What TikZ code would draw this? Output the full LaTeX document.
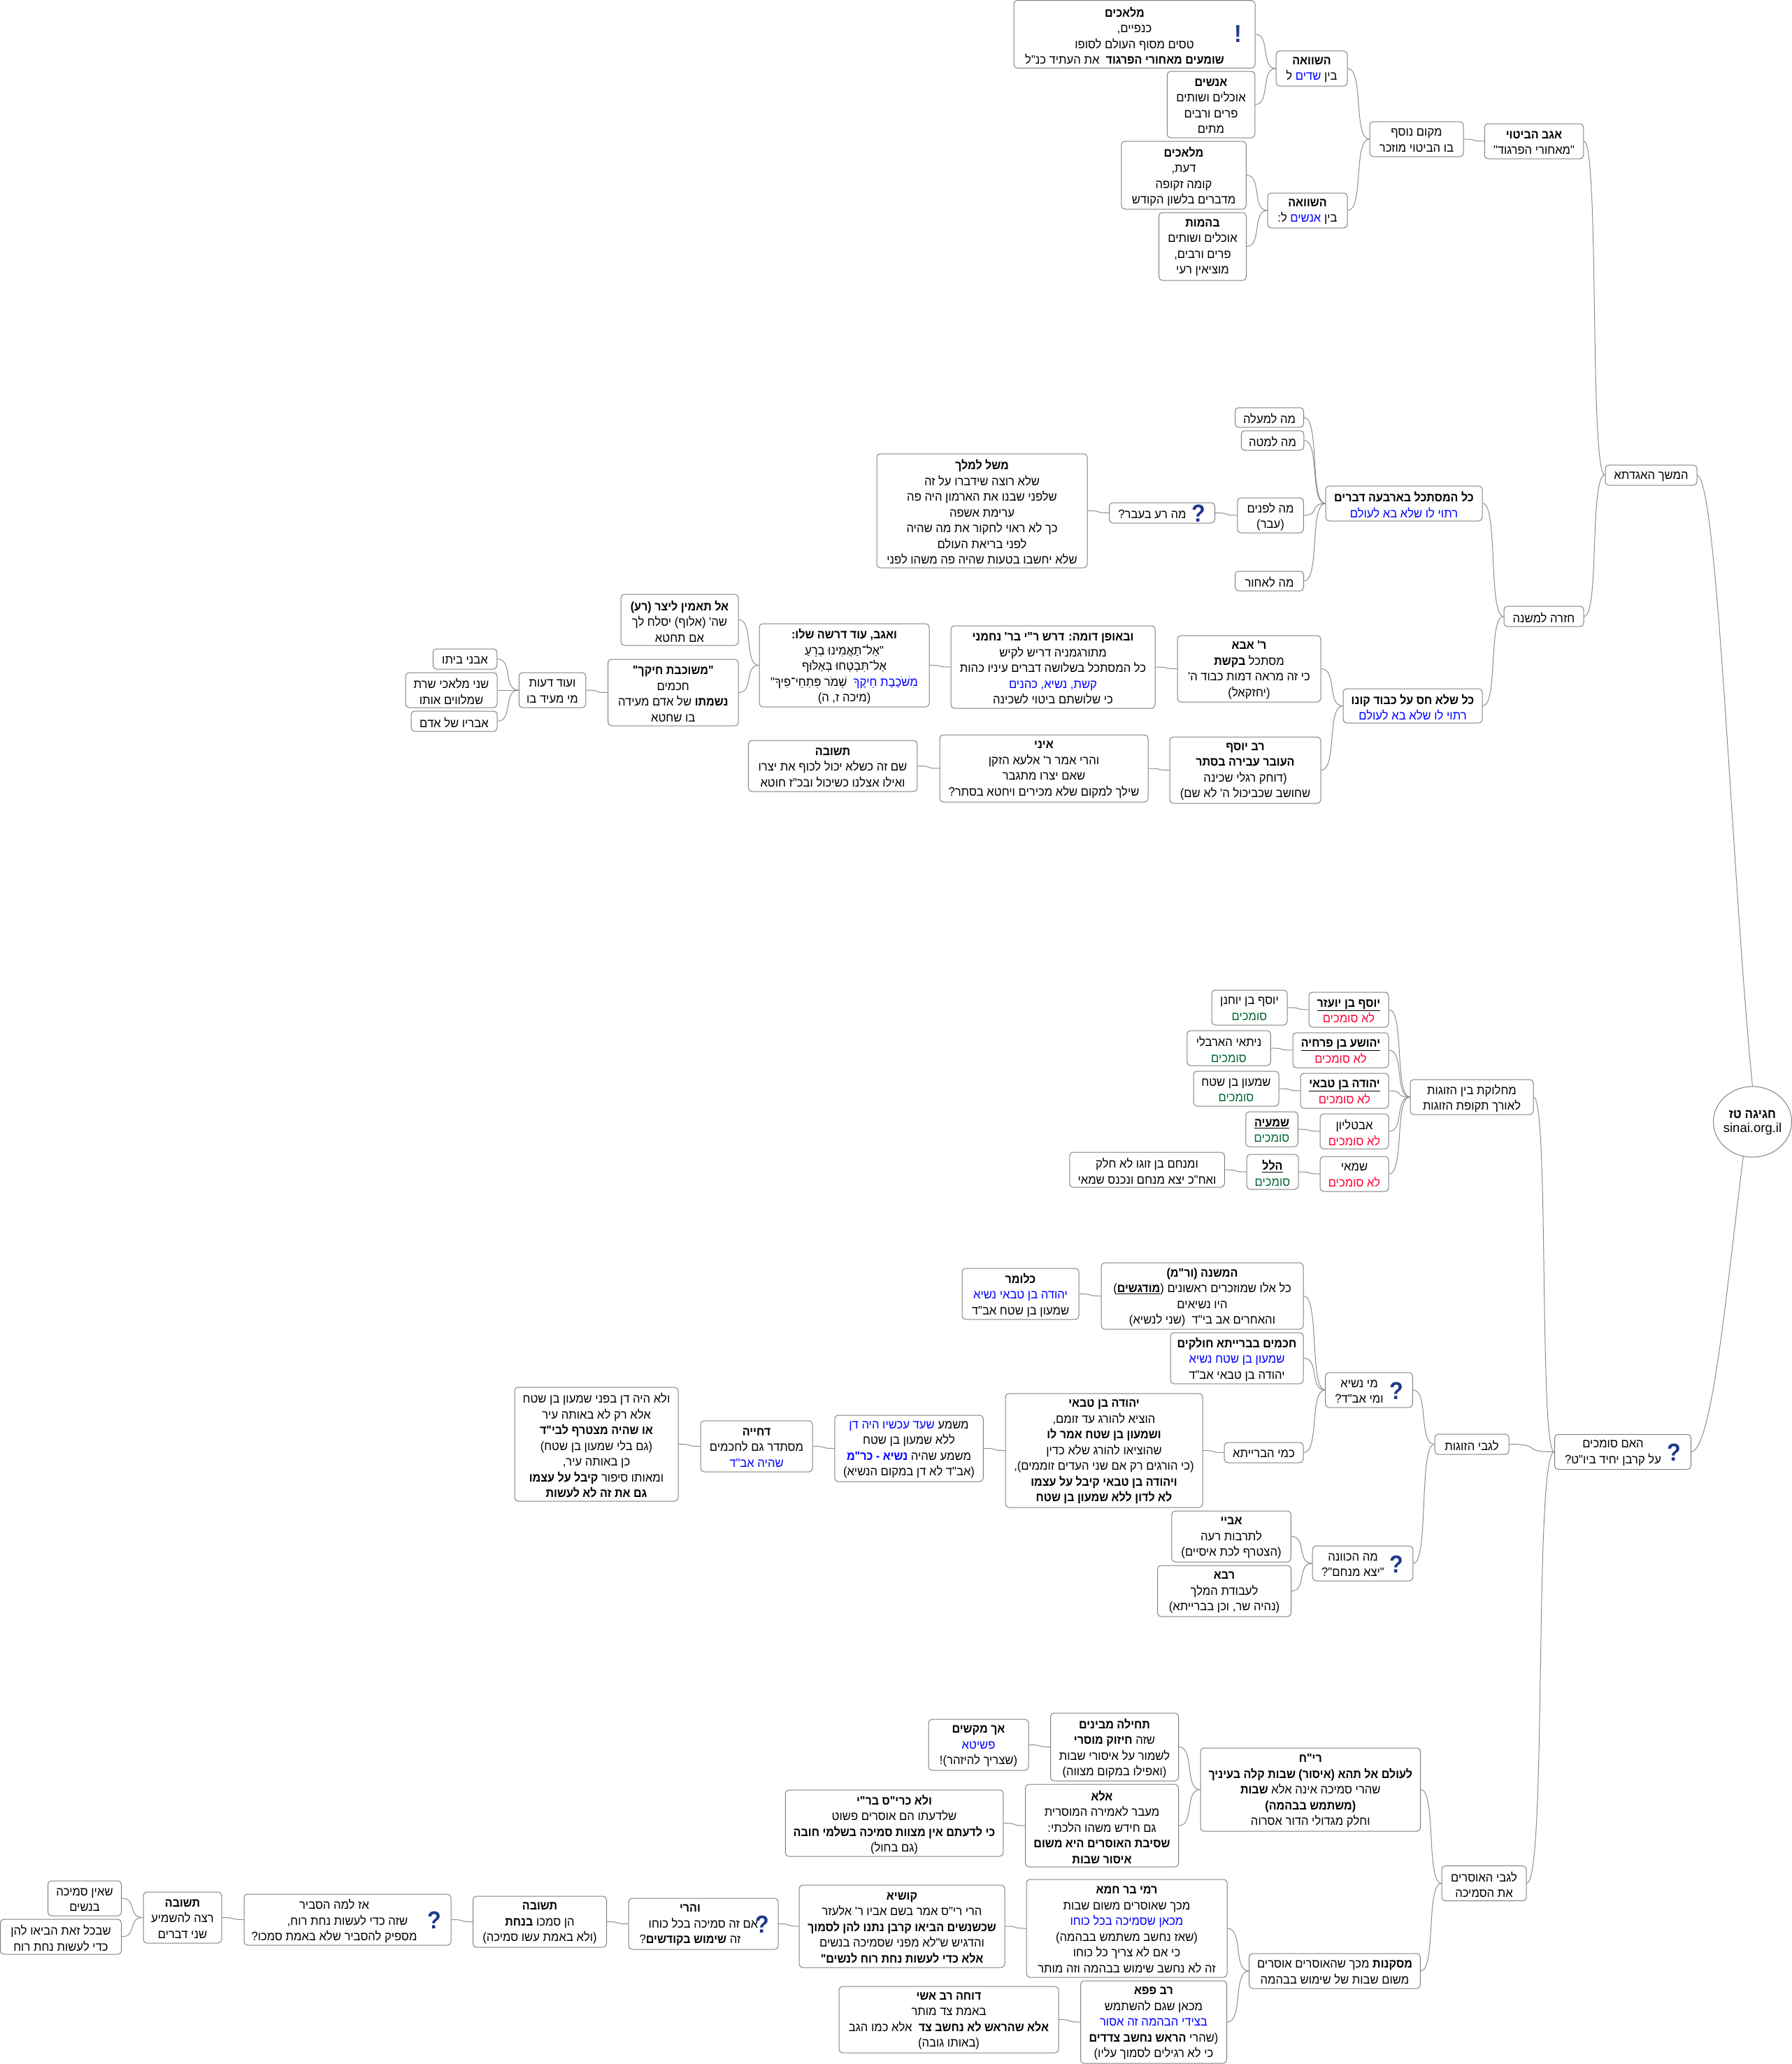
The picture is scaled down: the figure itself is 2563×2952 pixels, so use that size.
\documentclass[tikz,border=0pt]{standalone}
\usepackage{fontspec}
\usepackage{tikz}
\usetikzlibrary{calc,shapes.geometric}
\setmainfont[Script=Hebrew,Ligatures=TeXOff,UprightFeatures={FakeStretch=0.95},BoldFeatures={FakeStretch=0.92}]{Liberation Sans}
\newfontfamily\sitefont{Liberation Sans}
\TeXXeTstate=1
\definecolor{edgegray}{HTML}{8C8C8C}
\definecolor{boxgray}{HTML}{808080}
\definecolor{iconblue}{HTML}{1F3A8A}
\newcommand{\rtl}[1]{\beginR #1\endR}
\newcommand{\heb}[1]{\raisebox{-2pt}[\height][\depth]{\rtl{#1}}}
\newcommand{\hebb}[1]{\heb{\textbf{#1}}}
\newcommand{\hebq}[2][28pt]{\heb{#2}\hspace*{#1}}
\newcommand{\hebbq}[2][28pt]{\hebb{#2}\hspace*{#1}}
\newcommand{\colr}[2]{\special{color pop}#2\special{color push rgb #1}}
\newcommand{\blu}[1]{\colr{0 0 1}{#1}}
\newcommand{\no}{\heb{\colr{1 0 0.2}{לא סומכים}}}
\newcommand{\yes}{\heb{\colr{0 0.4 0.2}{סומכים}}}
\newcommand{\ulin}[1]{\underline{\rtl{\textbf{#1}}}}
\newcommand{\ulb}[1]{\heb{\ulin{#1}}}

\begin{document}
\begin{tikzpicture}[x=1pt, y=-1pt,
    main/.style = {draw=boxgray, line width=1pt, rounded corners=5pt, inner sep=0pt, align=center, fill=white,
        font=\fontsize{17.5}{22.5}\selectfont},
    box/.style 2 args = {minimum width=#1, minimum height=#2},
    root/.style = {draw=boxgray, line width=1pt, ellipse, inner sep=0pt, align=center,
        font=\fontsize{18.5}{22.5}\selectfont},
    icon/.style = {inner sep=0pt, text=iconblue, font=\fontsize{35}{35}\selectfont\bfseries},
    line/.style = {draw=edgegray, line width=1pt},
    link/.style = {line, to path={.. controls ($(\tikztostart)!0.75!(\tikztotarget |- \tikztostart)$) and ($(\tikztotarget)!0.75!(\tikztostart |- \tikztotarget)$) .. (\tikztotarget)}}]
    \useasboundingbox (0,0) rectangle (2563,2952);

    \node[main, box={345}{96.5}] (1) at (1622.5,49) {\hebbq{מלאכים}\\\hebq{כנפיים,}\\\hebq{טסים מסוף העולם לסופו}\\\hebq{\textbf{שומעים מאחורי הפרגוד}\ \ את העתיד כנ"ל}};
    \node[main, box={125.5}{95}] (2) at (1732,149.5) {\hebb{אנשים}\\\heb{אוכלים ושותים}\\\heb{פרים ורבים}\\\heb{מתים}};
    \node[main, box={102}{50}] (3) at (1876,98) {\hebb{השוואה}\\\heb{בין \blu{שדים} ל}};
    \node[main, box={178.5}{97}] (4) at (1693,250.5) {\hebb{מלאכים}\\\heb{דעת,}\\\heb{קומה זקופה}\\\heb{מדברים בלשון הקודש}};
    \node[main, box={125}{97}] (5) at (1720,352.5) {\hebb{בהמות}\\\heb{אוכלים ושותים}\\\heb{פרים ורבים,}\\\heb{מוציאין רעי}};
    \node[main, box={114}{50}] (6) at (1870,301) {\hebb{השוואה}\\\heb{בין \blu{אנשים} ל:}};
    \node[main, box={134}{50}] (7) at (2026,199) {\heb{מקום נוסף}\\\heb{בו הביטוי מוזכר}};
    \node[main, box={141.5}{50}] (8) at (2194,202) {\hebb{אגב הביטוי}\\\heb{"מאחורי הפרגוד"}};
    \node[main, box={131}{29}] (9) at (2361.5,679.5) {\heb{המשך האגדתא}};
    \node[main, box={98}{28}] (10) at (1815.5,597) {\heb{מה למעלה}};
    \node[main, box={89.5}{28}] (11) at (1820,630) {\heb{מה למטה}};
    \node[main, box={94.5}{50}] (12) at (1817,737) {\heb{מה לפנים}\\\heb{(עבר)}};
    \node[main, box={151}{29}] (13) at (1662,733.5) {\hebq{מה רע בעבר?}};
    \node[main, box={301}{163}] (14) at (1404.5,730.5) {\hebb{משל למלך}\\\heb{שלא רוצה שידברו על זה}\\\heb{שלפני שבנו את הארמון היה פה}\\\heb{ערימת אשפה}\\\heb{כך לא ראוי לחקור את מה שהיה}\\\heb{לפני בריאת העולם}\\\heb{שלא יחשבו בטעות שהיה פה משהו לפני}};
    \node[main, box={98}{28}] (15) at (1815.5,831) {\heb{מה לאחור}};
    \node[main, box={224}{50}] (16) at (2008,720) {\hebb{כל המסתכל בארבעה דברים}\\\heb{\blu{רתוי לו שלא בא לעולם}}};
    \node[main, box={199}{49}] (17) at (2020.5,1009.5) {\hebb{כל שלא חס על כבוד קונו}\\\heb{\blu{רתוי לו שלא בא לעולם}}};
    \node[main, box={114}{29}] (18) at (2208,881.5) {\heb{חזרה למשנה}};
    \node[main, box={205}{95}] (19) at (1786.5,956.5) {\hebb{ר' אבא}\\\heb{מסתכל \textbf{בקשת}}\\\heb{כי זה מראה דמות כבוד ה'}\\\heb{(יחזקאל)}};
    \node[main, box={292}{118}] (20) at (1506,954) {\hebb{ובאופן דומה: דרש ר"י בר' נחמני}\\\heb{מתורגמניה דריש לקיש}\\\heb{כל המסתכל בשלושה דברים עיניו כהות}\\\heb{\blu{קשת, נשיא, כהנים}}\\\heb{כי שלושתם ביטוי לשכינה}};
    \node[main, box={243}{119}] (21) at (1207.5,951.5) {\hebb{ואגב, עוד דרשה שלו:}\\\heb{"אַל־תַּאֲמִינוּ בְרֵעַ}\\\heb{אַל־תִּבְטְחוּ בְּאַלּוּף}\\\heb{\blu{מִשֹּׁכֶבֶת חֵיקֶךָ}\ \ שְׁמֹר פִּתְחֵי־פִיךָ"}\\\heb{(מיכה ז, ה)}};
    \node[main, box={168}{73}] (22) at (972,886.5) {\hebb{אל תאמין ליצר (רע)}\\\heb{שה' (אלוף) יסלח לך}\\\heb{אם תחטא}};
    \node[main, box={186.5}{95}] (23) at (962.75,990.5) {\hebb{"משוכבת חיקך"}\\\heb{חכמים}\\\heb{\textbf{נשמתו} של אדם מעידה}\\\heb{בו שחטא}};
    \node[main, box={95.5}{50}] (24) at (790,987) {\heb{ועוד דעות}\\\heb{מי מעיד בו}};
    \node[main, box={91.5}{29}] (25) at (665,942.5) {\heb{אבני ביתו}};
    \node[main, box={131}{50}] (26) at (645.5,987) {\heb{שני מלאכי שרת}\\\heb{שמלווים אותו}};
    \node[main, box={123}{29}] (27) at (649.5,1031.5) {\heb{אבריו של אדם}};
    \node[main, box={216}{95}] (28) at (1781,1101.5) {\hebb{רב יוסף}\\\hebb{העובר עבירה בסתר}\\\heb{(דוחק רגלי שכינה}\\\heb{שחושב שכביכול ה' לא שם)}};
    \node[main, box={298}{96}] (29) at (1493,1099) {\hebb{איני}\\\heb{והרי אמר ר' אלעא הזקן}\\\heb{שאם יצרו מתגבר}\\\heb{שילך למקום שלא מכירים ויחטא בסתר?}};
    \node[main, box={241.5}{73}] (30) at (1191,1095.5) {\hebb{תשובה}\\\heb{שם זה כשלא יכול לכוף את יצרו}\\\heb{ואילו אצלנו כשיכול ובכ"ז חוטא}};
    \node[main, box={114}{50}] (31) at (1929,1444) {\ulb{יוסף בן יועזר}\\\no};
    \node[main, box={108}{50}] (32) at (1787,1441) {\heb{יוסף בן יוחנן}\\\yes};
    \node[main, box={137}{50}] (33) at (1917.5,1502) {\ulb{יהושע בן פרחיה}\\\no};
    \node[main, box={119.5}{50}] (34) at (1757.5,1499) {\heb{ניתאי הארבלי}\\\yes};
    \node[main, box={126}{50}] (35) at (1923,1560) {\ulb{יהודה בן טבאי}\\\no};
    \node[main, box={122}{50}] (36) at (1768,1557) {\heb{שמעון בן שטח}\\\yes};
    \node[main, box={98}{50}] (37) at (1937,1618) {\heb{אבטליון}\\\no};
    \node[main, box={74.5}{50}] (38) at (1819,1615) {\ulb{שמעיה}\\\yes};
    \node[main, box={98}{50}] (39) at (1937,1679) {\heb{שמאי}\\\no};
    \node[main, box={74}{50}] (40) at (1820,1676) {\ulb{הלל}\\\yes};
    \node[main, box={221.5}{50}] (41) at (1640.5,1673) {\heb{ומנחם בן זוגו לא חלק}\\\heb{ואח"כ יצא מנחם ונכנס שמאי}};
    \node[main, box={176}{50}] (42) at (2105,1569) {\heb{מחלוקת בין הזוגות}\\\heb{לאורך תקופת הזוגות}};
    \node[root, minimum width=112, minimum height=101] (43) at (2506.5,1604.5) {\makebox[0pt]{\hebb{חגיגה טז}}\\\makebox[0pt]{\sitefont sinai.org.il}};
    \node[main, box={289}{95}] (44) at (1719.5,1853.5) {\hebb{המשנה (ור"מ)}\\\heb{כל אלו שמוזכרים ראשונים (\ulin{מודגשים})}\\\heb{היו נשיאים}\\\heb{והאחרים אב בי"ד\ \ (שני לנשיא)}};
    \node[main, box={167}{73}] (45) at (1459.5,1850.5) {\hebb{כלומר}\\\heb{\blu{יהודה בן טבאי נשיא}}\\\heb{שמעון בן שטח אב"ד}};
    \node[main, box={190}{73}] (46) at (1769,1942.5) {\hebb{חכמים בברייתא חולקים}\\\heb{\blu{שמעון בן שטח נשיא}}\\\heb{יהודה בן טבאי אב"ד}};
    \node[main, box={124.6}{50}] (47) at (1958,1988) {\hebq{מי נשיא}\\\hebq{ומי אב"ד?}};
    \node[main, box={113}{29}] (48) at (1807.5,2077.5) {\heb{כמי הברייתא}};
    \node[main, box={282}{163}] (49) at (1579,2074.5) {\hebb{יהודה בן טבאי}\\\heb{הוציא להורג עד זומם,}\\\hebb{ושמעון בן שטח אמר לו}\\\heb{שהוציאו להורג שלא כדין}\\\heb{(כי הורגים רק אם שני העדים זוממים),}\\\hebb{ויהודה בן טבאי קיבל על עצמו}\\\hebb{לא לדון ללא שמעון בן שטח}};
    \node[main, box={212.5}{95}] (50) at (1300,2071.5) {\heb{משמע \blu{שעד עכשיו היה דן}}\\\heb{ללא שמעון בן שטח}\\\heb{משמע שהיה \blu{\textbf{נשיא - כר"מ}}}\\\heb{(אב"ד לא דן במקום הנשיא)}};
    \node[main, box={160}{73}] (51) at (1082,2068.5) {\hebb{דחייה}\\\heb{מסתדר גם לחכמים}\\\heb{\blu{שהיה אב"ד}}};
    \node[main, box={234}{163}] (52) at (853,2065.5) {\heb{ולא היה דן בפני שמעון בן שטח}\\\heb{אלא רק לא באותה עיר}\\\hebb{או שהיה מצטרף לבי"ד}\\\heb{(גם בלי שמעון בן שטח)}\\\heb{כן באותה עיר,}\\\heb{ומאותו סיפור \textbf{קיבל על עצמו}}\\\hebb{גם את זה לא לעשות}};
    \node[main, box={170.5}{73}] (53) at (1761,2197.5) {\hebb{אביי}\\\heb{לתרבות רעה}\\\heb{(הצטרף לכת איסיים)}};
    \node[main, box={191}{73}] (54) at (1751,2275.5) {\hebb{רבא}\\\heb{לעבודת המלך}\\\heb{(נהיה שר, וכן בברייתא)}};
    \node[main, box={143.6}{50}] (55) at (1949,2236) {\hebq{מה הכוונה}\\\hebq{"יצא מנחם"?}};
    \node[main, box={106}{29}] (56) at (2105,2065.5) {\heb{לגבי הזוגות}};
    \node[main, box={195}{50}] (57) at (2321,2076.5) {\hebq{האם סומכים}\\\hebq{על קרבן יחיד ביו"ט?}};
    \node[main, box={121}{50}] (58) at (2122.5,2693.6) {\heb{לגבי האוסרים}\\\heb{את הסמיכה}};
    \node[main, box={314.6}{119}] (59) at (1874.3,2559.5) {\hebb{רי"ח}\\\hebb{לעולם אל תהא (איסור) שבות קלה בעיניך}\\\heb{שהרי סמיכה אינה אלא \textbf{שבות}}\\\hebb{(משתמש בבהמה)}\\\heb{וחלק מגדולי הדור אסרוה}};
    \node[main, box={183}{97}] (60) at (1594,2498.5) {\hebb{תחילה מבינים}\\\heb{שזה \textbf{חיזוק מוסרי}}\\\heb{לשמור על איסורי שבות}\\\heb{(ואפילו במקום מצווה)}};
    \node[main, box={143}{73}] (61) at (1399.5,2495.5) {\hebb{אך מקשים}\\\heb{\blu{פשיטא}}\\\heb{(שצריך להיזהר)!}};
    \node[main, box={219}{118}] (62) at (1576,2611) {\hebb{אלא}\\\heb{מעבר לאמירה המוסרית}\\\heb{גם חידש משהו הלכתי:}\\\hebb{שסיבת האוסרים היא משום}\\\hebb{איסור שבות}};
    \node[main, box={311.5}{95}] (63) at (1279,2607.5) {\hebb{ולא כרי"ס בר"י}\\\heb{שלדעתו הם אוסרים פשוט}\\\hebb{כי לדעתם אין מצוות סמיכה בשלמי חובה}\\\heb{(גם בחול)}};
    \node[main, box={244.6}{50}] (64) at (1909,2819) {\heb{\textbf{מסקנות} מכך שהאוסרים אוסרים}\\\heb{משום שבות של שימוש בבהמה}};
    \node[main, box={287}{140}] (65) at (1611.5,2758) {\hebb{רמי בר חמא}\\\heb{מכך שאוסרים משום שבות}\\\heb{\blu{מכאן שסמיכה בכל כוחו}}\\\heb{(שאז נחשב משתמש בבהמה)}\\\heb{כי אם לא צריך כל כוחו}\\\heb{זה לא נחשב שימוש בבהמה וזה מותר}};
    \node[main, box={294}{118}] (66) at (1290,2755) {\hebb{קושיא}\\\heb{הרי רי"ס אמר בשם אביו ר' אלעזר}\\\hebb{שכשנשים הביאו קרבן נתנו להן לסמוך}\\\heb{והדגיש ש"לא מפני שסמיכה בנשים}\\\hebb{אלא כדי לעשות נחת רוח לנשים"}};
    \node[main, box={209}{118}] (67) at (1650,2892) {\hebb{רב פפא}\\\heb{מכאן שגם להשתמש}\\\heb{\blu{בצידי הבהמה זה אסור}}\\\heb{(שהרי \textbf{הראש נחשב צדדים}}\\\heb{כי לא רגילים לסמוך עליו)}};
    \node[main, box={314}{95}] (68) at (1357,2888.5) {\hebb{דוחה רב אשי}\\\heb{באמת צד מותר}\\\heb{\textbf{אלא שהראש לא נחשב צד}\ \ אלא כמו הגב}\\\heb{(באותו גובה)}};
    \node[main, box={214}{73}] (69) at (1006,2751.5) {\hebbq[38pt]{והרי}\\\hebq[38pt]{אם זה סמיכה בכל כוחו}\\\hebq[38pt]{זה \textbf{שימוש בקודשים}?}};
    \node[main, box={191}{73}] (70) at (772,2748.5) {\hebb{תשובה}\\\heb{הן סמכו \textbf{בנחת}}\\\heb{(ולא באמת עשו סמיכה)}};
    \node[main, box={296}{73}] (71) at (497,2745.5) {\hebq[38pt]{אז למה הסביר}\\\hebq[38pt]{שזה כדי לעשות נחת רוח,}\\\hebq[38pt]{מספיק להסביר שלא באמת סמכו?}};
    \node[main, box={112}{73}] (72) at (261,2742.5) {\hebb{תשובה}\\\heb{רצה להשמיע}\\\heb{שני דברים}};
    \node[main, box={105}{50}] (73) at (121,2715) {\heb{שאין סמיכה}\\\heb{בנשים}};
    \node[main, box={173}{50}] (74) at (87,2770) {\heb{שבכל זאת הביאו להן}\\\heb{כדי לעשות נחת רוח}};

    \node[icon] (i1) at (1771,48) {!};
    \node[icon] (i2) at (1714,734) {?};
    \node[icon] (i3) at (1997,1989) {?};
    \node[icon] (i4) at (1997,2237) {?};
    \node[icon] (i5) at (2394,2077) {?};
    \node[icon] (i6) at (1090,2752) {?};
    \node[icon] (i7) at (621,2746) {?};

    \draw[link] (1.east) to (3.west);
    \draw[link] (2.east) to (3.west);
    \draw[link] (4.east) to (6.west);
    \draw[link] (5.east) to (6.west);
    \draw[link] (3.east) to (7.west);
    \draw[link] (6.east) to (7.west);
    \draw[link] (7.east) to (8.west);
    \draw[link] (8.east) to (9.west);
    \draw[link] (10.east) to (16.west);
    \draw[link] (11.east) to (16.west);
    \draw[link] (12.east) to (16.west);
    \draw[link] (15.east) to (16.west);
    \draw[link] (13.east) to (12.west);
    \draw[link] (14.east) to (13.west);
    \draw[link] (16.east) to (18.west);
    \draw[link] (17.east) to (18.west);
    \draw[link] (18.east) to (9.west);
    \draw[link] (19.east) to (17.west);
    \draw[link] (28.east) to (17.west);
    \draw[link] (20.east) to (19.west);
    \draw[link] (21.east) to (20.west);
    \draw[link] (22.east) to (21.west);
    \draw[link] (23.east) to (21.west);
    \draw[link] (24.east) to (23.west);
    \draw[link] (25.east) to (24.west);
    \draw[link] (26.east) to (24.west);
    \draw[link] (27.east) to (24.west);
    \draw[link] (29.east) to (28.west);
    \draw[link] (30.east) to (29.west);
    \draw[link] (32.east) to (31.west);
    \draw[link] (34.east) to (33.west);
    \draw[link] (36.east) to (35.west);
    \draw[link] (38.east) to (37.west);
    \draw[link] (40.east) to (39.west);
    \draw[link] (41.east) to (40.west);
    \draw[link] (31.east) to (42.west);
    \draw[link] (33.east) to (42.west);
    \draw[link] (35.east) to (42.west);
    \draw[link] (37.east) to (42.west);
    \draw[link] (39.east) to (42.west);
    \draw[link] (42.east) to (57.west);
    \draw[link] (45.east) to (44.west);
    \draw[link] (44.east) to (47.west);
    \draw[link] (46.east) to (47.west);
    \draw[link] (48.east) to (47.west);
    \draw[link] (49.east) to (48.west);
    \draw[link] (50.east) to (49.west);
    \draw[link] (51.east) to (50.west);
    \draw[link] (52.east) to (51.west);
    \draw[link] (47.east) to (56.west);
    \draw[link] (53.east) to (55.west);
    \draw[link] (54.east) to (55.west);
    \draw[link] (55.east) to (56.west);
    \draw[link] (56.east) to (57.west);
    \draw[link] (58.east) to (57.west);
    \draw[link] (61.east) to (60.west);
    \draw[link] (60.east) to (59.west);
    \draw[link] (63.east) to (62.west);
    \draw[link] (62.east) to (59.west);
    \draw[link] (59.east) to (58.west);
    \draw[link] (64.east) to (58.west);
    \draw[link] (65.east) to (64.west);
    \draw[link] (67.east) to (64.west);
    \draw[link] (68.east) to (67.west);
    \draw[link] (66.east) to (65.west);
    \draw[link] (69.east) to (66.west);
    \draw[link] (70.east) to (69.west);
    \draw[link] (71.east) to (70.west);
    \draw[link] (72.east) to (71.west);
    \draw[link] (73.east) to (72.west);
    \draw[link] (74.east) to (72.west);
    \draw[line] (9.east) .. controls +(30,10) and +(-30,-300) .. (43.north);
    \draw[line] (57.east) .. controls +(30,-5) and +(-25,200) .. (43.-105);
\end{tikzpicture}
\end{document}
